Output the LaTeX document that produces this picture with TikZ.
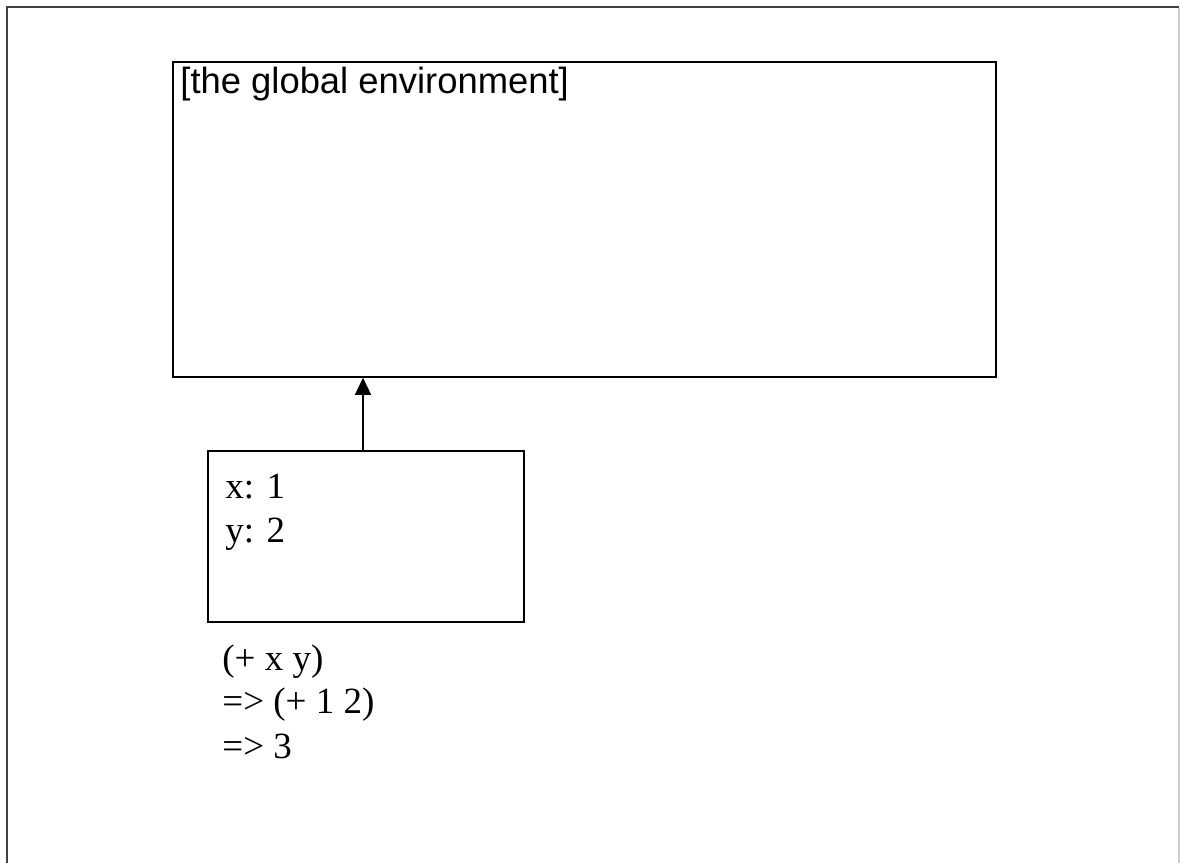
\documentclass[tikz,border=0pt]{standalone}
\usepackage{fontspec}
\setmainfont{Liberation Serif}
\newfontfamily\arialf{Liberation Sans}
\usetikzlibrary{positioning,arrows.meta}
\tikzset{
  envbox/.style={draw,line width=0.8pt,inner sep=0pt},
  ptr/.style={-{Triangle[length=8.5pt,width=8pt]},line width=0.8pt},
  sanstxt/.style={font=\arialf\fontsize{18.2}{22}\selectfont,inner sep=0pt,anchor=base west},
  sertxt/.style={font=\fontsize{18.5}{22}\selectfont,inner sep=0pt,anchor=base west},
  frameln/.style={line width=1.3pt,black!75},
}

\begin{document}
\begin{tikzpicture}[x=0.5pt,y=-0.5pt]
  \useasboundingbox (0,0) rectangle (1180,863);
  % page frame
  \draw[frameln] (7,863)--(7,7)--(1179,7);
  \draw[line width=0.6pt,black!20] (1179,8)--(1179,863);
  % environments
  \node[envbox,minimum width=411.5pt,minimum height=157.5pt] (genv) at (584.5,219.5) {};
  \node[sanstxt] (glbl) at (180,93) {[the global environment]};
  \node[envbox,minimum width=158pt,minimum height=85.5pt] (fenv) at (366,536.5) {};
  \node[sertxt] (bx) at (225,498) {x: 1};
  \node[sertxt] (by) at (225,542) {y: 2};
  \draw[ptr] ([xshift=-1.5pt]fenv.north) -- ([xshift=-1.5pt]fenv.north |- genv.south);
  % evaluation
  \node[sertxt] (ev1) at (222,670) {(+ x y)};
  \node[sertxt] (ev2) at (222,713) {=> (+ 1 2)};
  \node[sertxt] (ev3) at (222,758) {=> 3};
\end{tikzpicture}
\end{document}
